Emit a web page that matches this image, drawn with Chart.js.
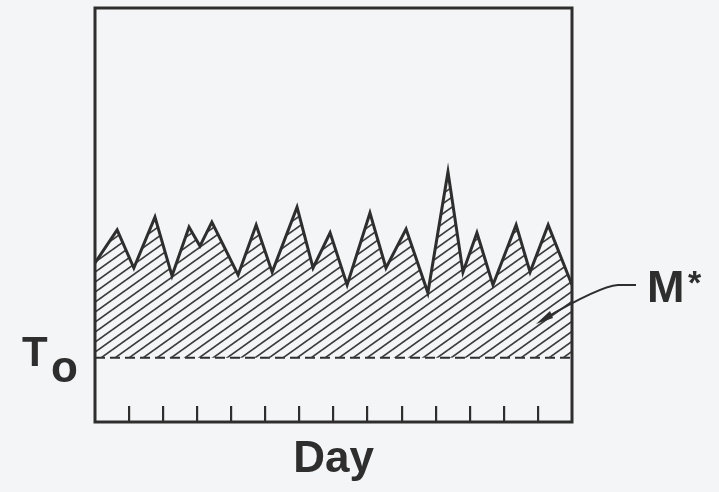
<!DOCTYPE html>
<html>
<head>
<meta charset="utf-8">
<script src="https://cdn.jsdelivr.net/npm/chart.js@4"></script>
<style>
  html, body { margin: 0; padding: 0; background: #f4f5f7; }
  #wrap { width: 719px; height: 492px; }
</style>
</head>
<body>
<div id="wrap"><canvas id="chart" width="719" height="492"></canvas></div>
<script>
// Day positions of the vertices of the jagged line
const days = [0, 0.65, 1.14, 1.76, 2.26, 2.76, 3.08, 3.43, 4.2, 4.73, 5.2, 5.93, 6.4, 6.9,
  7.4, 8.07, 8.54, 9.13, 9.77, 10.36, 10.8, 11.21, 11.68, 12.36, 12.77, 13.3, 14];
// Level of the line at each vertex (arbitrary units, 0 = bottom of frame)
const levels = [38.4, 46.4, 37.2, 49.5, 35.3, 47.1, 42.5, 48.3, 35.5, 47.6, 36.2, 51.9, 37.2, 45.7,
  33.1, 50.5, 37.2, 46.6, 31.2, 60.4, 36.2, 45.7, 33.1, 47.6, 36.2, 47.6, 33.1];
// Threshold T0 (dashed line)
const t0 = 15.5;
// Tick marks on the day axis
const dayTicks = [1, 2, 3, 4, 5, 6, 7, 8, 9, 10, 11, 12, 13];
const dayRange = [0, 14];
const levelRange = [0, 100];

const ink = '#2e2e2e';
const fontFamily = '"Liberation Sans", Arial, sans-serif';

// Diagonal hatch pattern for the area above T0
function makeHatch() {
  const w = 14, h = 10;
  const c = document.createElement('canvas');
  c.width = w; c.height = h;
  const g = c.getContext('2d');
  g.strokeStyle = '#3c3c3c';
  g.lineWidth = 1.7;
  [[0, 0], [-w, 0], [w, 0], [0, -h], [0, h]].forEach(([dx, dy]) => {
    g.beginPath();
    g.moveTo(dx, h + dy);
    g.lineTo(w + dx, dy);
    g.stroke();
  });
  return g.createPattern(c, 'repeat');
}

// Frame around the plot plus the T0 and M* labels
const decorations = {
  id: 'decorations',
  afterDraw(chart) {
    const { ctx, chartArea: a, scales } = chart;
    ctx.save();
    ctx.strokeStyle = ink;
    ctx.lineWidth = 3;
    ctx.strokeRect(a.left, a.top, a.right - a.left, a.bottom - a.top);

    // T0 label
    const yT = scales.y.getPixelForValue(t0);
    ctx.fillStyle = ink;
    ctx.textBaseline = 'alphabetic';
    ctx.font = 'bold 42px ' + fontFamily;
    ctx.fillText('T', 22, yT + 8);
    ctx.font = 'bold 44px ' + fontFamily;
    ctx.fillText('o', 51, yT + 24);

    // M* label with arrow
    ctx.font = 'bold 45px ' + fontFamily;
    ctx.fillText('M', 647, 302);
    ctx.font = 'bold 34px ' + fontFamily;
    ctx.fillText('*', 688, 294);

    ctx.lineWidth = 1.8;
    ctx.beginPath();
    ctx.moveTo(636, 285);
    ctx.lineTo(618, 285);
    ctx.quadraticCurveTo(600, 286, 542, 320);
    ctx.stroke();
    ctx.beginPath();
    ctx.moveTo(536, 324);
    ctx.lineTo(550, 311);
    ctx.lineTo(553, 318);
    ctx.closePath();
    ctx.fill();
    ctx.restore();
  }
};

const ctx = document.getElementById('chart').getContext('2d');
new Chart(ctx, {
  type: 'line',
  data: {
    datasets: [
      {
        label: 'M*',
        data: days.map((d, i) => ({ x: d, y: levels[i] })),
        borderColor: ink,
        borderWidth: 3,
        backgroundColor: makeHatch(),
        fill: { value: t0 },
        pointRadius: 0,
        tension: 0,
        borderJoinStyle: 'miter'
      },
      {
        label: 'T0',
        data: dayRange.map(d => ({ x: d, y: t0 })),
        borderColor: ink,
        borderWidth: 2,
        borderDash: [10, 5],
        pointRadius: 0,
        fill: false
      }
    ]
  },
  options: {
    responsive: false,
    animation: false,
    layout: { padding: { left: 95, right: 147, top: 8, bottom: 0 } },
    plugins: {
      legend: { display: false },
      tooltip: { enabled: false }
    },
    scales: {
      x: {
        type: 'linear',
        min: dayRange[0],
        max: dayRange[1],
        afterBuildTicks: s => { s.ticks = dayTicks.map(v => ({ value: v })); },
        afterFit: s => { s.height = 70; },
        ticks: { display: false },
        border: { display: false },
        grid: {
          drawOnChartArea: false,
          drawTicks: true,
          tickLength: -16,
          color: ink,
          lineWidth: 2.2
        },
        title: {
          display: true,
          text: 'Day',
          color: ink,
          font: { family: fontFamily, size: 44, weight: 'bold' },
          padding: { top: 0, bottom: 6 }
        }
      },
      y: {
        display: false,
        min: levelRange[0],
        max: levelRange[1]
      }
    }
  },
  plugins: [decorations]
});
</script>
</body>
</html>
